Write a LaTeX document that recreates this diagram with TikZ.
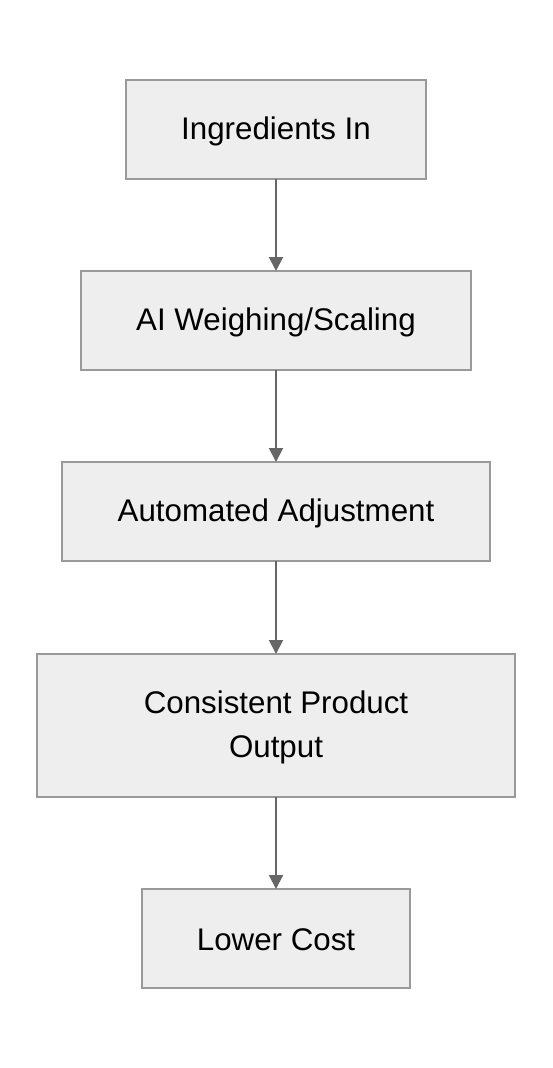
\documentclass[tikz,border=0pt]{standalone}
\usepackage{fontspec}
\setmainfont{Liberation Sans}
\usetikzlibrary{arrows.meta}
\definecolor{boxfill}{HTML}{EEEEEE}
\definecolor{boxline}{HTML}{999999}
\definecolor{arrowc}{HTML}{666666}
\begin{document}
\begin{tikzpicture}[x=1pt,y=-1pt,
  box/.style={draw=boxline,fill=boxfill,line width=1.6pt,inner sep=0pt,outer sep=0pt,anchor=north west},
  lbl/.style={font=\fontsize{31.3}{44}\selectfont,align=center,text=black},
  conn/.style={draw=arrowc,line width=2pt,-{Triangle[length=14pt,width=14pt]}}]
\useasboundingbox (0,0) rectangle (552,1068);
\node[box,minimum width=300pt,minimum height=99pt] (b1) at (126,80) {};
\node[box,minimum width=390pt,minimum height=99pt] (b2) at (81,271) {};
\node[box,minimum width=428pt,minimum height=99pt] (b3) at (62,462) {};
\node[box,minimum width=478pt,minimum height=143pt] (b4) at (37,654) {};
\node[box,minimum width=268pt,minimum height=99pt] (b5) at (142,889) {};
\node[lbl] at ([yshift=-1.5pt]b1.center) {Ingredients In};
\node[lbl] at ([yshift=-1.5pt]b2.center) {AI Weighing/Scaling};
\node[lbl] at ([yshift=-1.5pt]b3.center) {Automated Adjustment};
\node[lbl] at ([yshift=-1.5pt]b4.center) {Consistent Product\\Output};
\node[lbl] at ([yshift=-1.5pt]b5.center) {Lower Cost};
\draw[conn] (b1.south) -- (b2.north);
\draw[conn] (b2.south) -- (b3.north);
\draw[conn] (b3.south) -- (b4.north);
\draw[conn] (b4.south) -- (b5.north);
\end{tikzpicture}
\end{document}
